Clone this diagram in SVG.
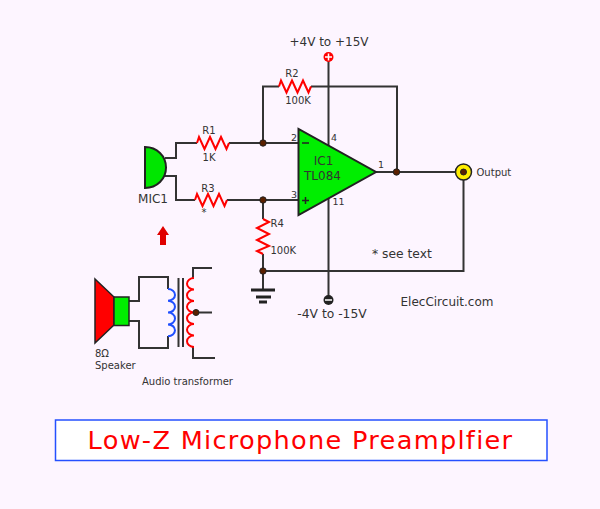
<svg xmlns="http://www.w3.org/2000/svg" width="600" height="509" viewBox="0 0 600 509">
<style>
text{font-family:"DejaVu Sans",Verdana,sans-serif;fill:#333}
.w{fill:none;stroke:#333;stroke-width:2}
.r{fill:none;stroke:#f00;stroke-width:2}
.b{fill:none;stroke:#1f4fff;stroke-width:2}
.n{fill:#5a2000;stroke:#222;stroke-width:1}
.l{font-size:10px}
.p{font-size:9.500px}
.s{font-size:12px}
</style>
<rect width="600" height="509" fill="#fdf5ff"/>
<g id="connectors">
<path class="w" d="M165 158H176V143H197M229 143H298M263 143V86.500H279M311 86.500H397V172M376 172H463"/>
<path class="w" d="M165 176H176V200H195M227 200H298M263 200V219M263 254V291"/>
<path class="w" d="M328.500 57V146M328.500 198V300M463.500 172V271H263"/>
<path class="w" d="M129 301H139V277H168V289M129 321H139V348H168V336"/>
<path class="w" d="M193 278V268H212M193 347V358H215M196 312.500H212"/>
</g>
<g id="R1"><path class="r" d="M197 143l2-6 5.500 12 5.500-12 5.500 12 5.500-12 5.500 12 2.500-6"/><text class="l" x="209" y="134" text-anchor="middle">R1</text><text class="l" x="209" y="161" text-anchor="middle">1K</text></g>
<g id="R2"><path class="r" d="M279 86.500l2-6 5.500 12 5.500-12 5.500 12 5.500-12 5.500 12 2.500-6"/><text class="l" x="292" y="77" text-anchor="middle">R2</text><text class="l" x="298" y="103.500" text-anchor="middle">100K</text></g>
<g id="R3"><path class="r" d="M195 200l2-6 5.500 12 5.500-12 5.500 12 5.500-12 5.500 12 2.500-6"/><text class="l" x="208" y="192" text-anchor="middle">R3</text><text class="l" x="204" y="216" text-anchor="middle">*</text></g>
<g id="R4"><path class="r" d="M263 219L269 222L257 228L269 234L257 240L269 246L257 251L263 254"/><text class="l" x="270.500" y="227">R4</text><text class="l" x="270.500" y="254">100K</text></g>
<g id="MIC1"><path d="M145 147C157 147 166 156 166 167.500C166 179 157 188 145 188Z" fill="#00e600" stroke="#222" stroke-width="2"/><text x="153" y="203" text-anchor="middle" font-size="12">MIC1</text></g>
<g id="IC1"><path d="M298.500 129V215L376 172Z" fill="#00ee00" stroke="#222" stroke-width="2"/>
<path d="M302 143H309M302 200.500H309M305.500 197V204" fill="none" stroke="#222" stroke-width="1.500"/>
<text x="323.500" y="165" text-anchor="middle" font-size="12">IC1</text><text x="322.500" y="179.500" text-anchor="middle" font-size="12">TL084</text>
<text class="p" x="291" y="141">2</text><text class="p" x="291" y="198">3</text><text class="p" x="331" y="141">4</text><text class="p" x="332.500" y="205">11</text><text class="p" x="378" y="168">1</text></g>
<g id="node-a"><circle class="n" cx="263" cy="143" r="3.200"/></g>
<g id="node-b"><circle class="n" cx="263" cy="200" r="3.200"/></g>
<g id="node-c"><circle class="n" cx="263" cy="271" r="3.200"/></g>
<g id="node-d"><circle class="n" cx="396.500" cy="172" r="3.200"/></g>
<g id="output"><circle cx="463.500" cy="172" r="8" fill="#ffee00" stroke="#222" stroke-width="1.500"/><circle class="n" cx="463.500" cy="172" r="3"/><text class="l" x="476.500" y="176">Output</text></g>
<g id="vplus"><circle cx="328.500" cy="57" r="5" fill="#f00"/><path d="M325 57h7M328.500 53.500v7" stroke="#fff" stroke-width="1.500"/><text x="329" y="46" text-anchor="middle" font-size="12">+4V to +15V</text></g>
<g id="vminus"><circle cx="328.500" cy="300" r="5" fill="#222"/><path d="M325 300h7" stroke="#fff" stroke-width="1.500"/><text x="332" y="318" text-anchor="middle" font-size="12.300">-4V to -15V</text></g>
<g id="ground"><path d="M251 290H275M256 297H271M259 302H267" stroke="#222" stroke-width="3" fill="none"/></g>
<g id="arrow"><path d="M160 245V235H157L163 226L169 235H166V245Z" fill="#e00000"/></g>
<g id="speaker"><path d="M95 279L114 297V325L95 343Z" fill="#f00" stroke="#222" stroke-width="1.500"/><rect x="114" y="297" width="15" height="28.500" fill="#00ee00" stroke="#222" stroke-width="1.500"/><text class="l" x="95" y="357">8Ω</text><text class="l" x="95" y="368.500">Speaker</text></g>
<g id="transformer"><path class="b" d="M168 289a7 5.900 0 0 1 0 11.800a7 5.900 0 0 1 0 11.800a7 5.900 0 0 1 0 11.800a7 5.900 0 0 1 0 11.800"/>
<path class="w" d="M178.500 278V347M183 278V347"/>
<path class="r" d="M194 278a7 5.750 0 0 0 0 11.500a7 5.750 0 0 0 0 11.500a7 5.750 0 0 0 0 11.500a7 5.750 0 0 0 0 11.500a7 5.750 0 0 0 0 11.500a7 5.750 0 0 0 0 11.500"/>
<circle class="n" cx="196" cy="312.500" r="3"/><text class="l" x="142" y="385">Audio transformer</text></g>
<text x="372" y="258" font-size="12.300">* see text</text>
<text x="400.500" y="306" font-size="12">ElecCircuit.com</text>
<g id="title"><rect x="55.500" y="420" width="491.500" height="40.500" fill="#fff" stroke="#2450ff" stroke-width="1.500"/><text x="300.500" y="449" text-anchor="middle" font-size="25.600" letter-spacing="1.300" style="fill:#f00">Low-Z Microphone Preamplfier</text></g>
</svg>
